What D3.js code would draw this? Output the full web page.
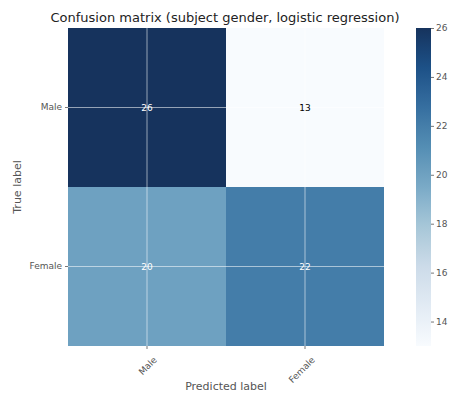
<!DOCTYPE html>
<html>
<head>
<meta charset="utf-8">
<script src="https://cdn.jsdelivr.net/npm/d3@7"></script>
<style>
  html, body { margin: 0; padding: 0; background: #fff; }
  svg { display: block; font-family: "DejaVu Sans", sans-serif; }
</style>
</head>
<body>
<svg id="chart" width="451" height="394"></svg>
<script>
// Confusion matrix data
const trueLabels = ["Male", "Female"];
const predLabels = ["Male", "Female"];
const counts = [
  [26, 13],
  [20, 22]
];
const colorbarTicks = [14, 16, 18, 20, 22, 24, 26];

const svg = d3.select("#chart");
const plot = { left: 68, right: 384, top: 28, bottom: 346 };

const x = d3.scaleBand().domain(predLabels).range([plot.left, plot.right]);
const y = d3.scaleBand().domain(trueLabels).range([plot.top, plot.bottom]);

// "Blues" colormap as linear segments between the nine ColorBrewer stops, slightly muted
const bluesStops = ["#f7fbff", "#deebf7", "#c6dbef", "#9ecae1", "#6baed6", "#4292c6", "#2171b5", "#08519c", "#08306b"];
const bluesRaw = d3.piecewise(d3.interpolateRgb, bluesStops);
const blues = t => {
  const c = d3.hsl(bluesRaw(t));
  c.s *= 0.72;
  return c.formatHex();
};

const vmin = d3.min(counts.flat()), vmax = d3.max(counts.flat());
const color = d3.scaleSequential(blues).domain([vmin, vmax]);

const cells = [];
trueLabels.forEach((t, i) => predLabels.forEach((p, j) => cells.push({ t, p, v: counts[i][j] })));

svg.append("g").selectAll("rect").data(cells).join("rect")
  .attr("x", d => x(d.p)).attr("y", d => y(d.t))
  .attr("width", x.bandwidth()).attr("height", y.bandwidth())
  .attr("fill", d => color(d.v));

// grid lines through cell centres
const grid = svg.append("g").attr("stroke", "#fff").attr("stroke-opacity", 0.55).attr("stroke-width", 1);
predLabels.forEach(p => {
  const cx = x(p) + x.bandwidth() / 2;
  grid.append("line").attr("x1", cx).attr("x2", cx).attr("y1", plot.top).attr("y2", plot.bottom);
});
trueLabels.forEach(t => {
  const cy = y(t) + y.bandwidth() / 2;
  grid.append("line").attr("x1", plot.left).attr("x2", plot.right).attr("y1", cy).attr("y2", cy);
});

// cell values
const thresh = vmax / 2;
svg.append("g").selectAll("text").data(cells).join("text")
  .attr("x", d => x(d.p) + x.bandwidth() / 2)
  .attr("y", d => y(d.t) + y.bandwidth() / 2)
  .attr("text-anchor", "middle").attr("dominant-baseline", "central")
  .attr("font-size", 9)
  .attr("fill", d => d.v > thresh ? "#fff" : "#000")
  .text(d => d.v);

// y axis
const yAxis = svg.append("g").attr("transform", `translate(${plot.left},0)`)
  .call(d3.axisLeft(y).tickSize(3).tickPadding(3));
yAxis.select(".domain").remove();
yAxis.selectAll("line").attr("stroke", "#777");
yAxis.selectAll("text").attr("fill", "#555").attr("font-size", 9).attr("font-family", "DejaVu Sans, sans-serif");

// x axis
const xAxis = svg.append("g").attr("transform", `translate(0,${plot.bottom})`)
  .call(d3.axisBottom(x).tickSize(3).tickPadding(3));
xAxis.select(".domain").remove();
xAxis.selectAll("line").attr("stroke", "#777");
xAxis.selectAll("text").attr("fill", "#555").attr("font-size", 9).attr("font-family", "DejaVu Sans, sans-serif")
  .attr("text-anchor", "end").attr("dy", "0.35em")
  .attr("transform", "translate(4,8) rotate(-45)");

// titles
svg.append("text").attr("x", 225).attr("y", 22).attr("text-anchor", "middle")
  .attr("font-size", 13).attr("fill", "#222")
  .text("Confusion matrix (subject gender, logistic regression)");
svg.append("text").attr("transform", `translate(21,${(plot.top + plot.bottom) / 2}) rotate(-90)`)
  .attr("text-anchor", "middle").attr("font-size", 11).attr("fill", "#555").text("True label");
svg.append("text").attr("x", (plot.left + plot.right) / 2).attr("y", 390)
  .attr("text-anchor", "middle").attr("font-size", 11).attr("fill", "#555").text("Predicted label");

// colorbar
const cb = { x: 416, w: 15 };
const cbScale = d3.scaleLinear().domain([vmin, vmax]).range([plot.bottom, plot.top]);
const defs = svg.append("defs");
const grad = defs.append("linearGradient").attr("id", "cbgrad")
  .attr("x1", 0).attr("y1", 1).attr("x2", 0).attr("y2", 0);
d3.range(0, 1.0001, 0.0625).forEach(t => {
  grad.append("stop").attr("offset", t).attr("stop-color", blues(t));
});
svg.append("rect").attr("x", cb.x).attr("y", plot.top).attr("width", cb.w)
  .attr("height", plot.bottom - plot.top).attr("fill", "url(#cbgrad)");
const cAxis = svg.append("g").attr("transform", `translate(${cb.x + cb.w},0)`)
  .call(d3.axisRight(cbScale).tickValues(colorbarTicks).tickSize(3).tickPadding(2));
cAxis.select(".domain").remove();
cAxis.selectAll("line").attr("stroke", "#777");
cAxis.selectAll("text").attr("fill", "#555").attr("font-size", 9).attr("font-family", "DejaVu Sans, sans-serif");
</script>
</body>
</html>
